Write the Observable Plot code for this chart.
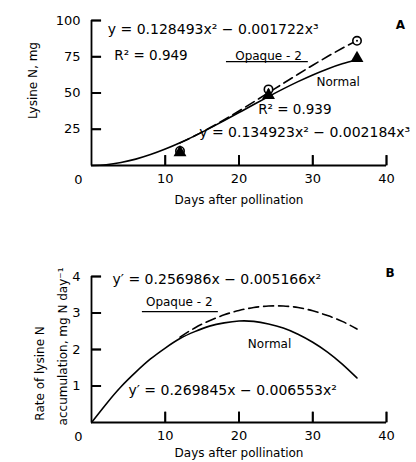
<!DOCTYPE html>
<html><head><meta charset="utf-8">
<script src="https://cdn.jsdelivr.net/npm/d3@7"></script>
<script src="https://cdn.jsdelivr.net/npm/@observablehq/plot@0.6"></script>
<style>body{margin:0;background:#fff}#c svg{display:block}</style>
</head><body><div id="c"></div>
<script>
// Panel A: lysine N (mg) vs days after pollination
const days = [0,2,4,6,8,10,12,14,16,18,20,22,24,26,28,30,32,34,36];
const lysineNormal = [0,0.52,2.02,4.39,7.52,11.31,15.66,20.45,25.6,30.98,36.5,42.05,47.52,52.82,57.84,62.46,66.6,70.13,72.96];
const daysOpaque = [12,14,16,18,20,22,24,26,28,30,32,34,36];
const lysineOpaque = [15.53,20.46,25.84,31.59,37.62,43.86,50.21,56.6,62.94,69.15,75.15,80.86,86.19];
const obsDays = [12,24,36];
const obsOpaque = [10,52.5,86];
const obsNormal = [9,48.5,74];
// Panel B: rate of lysine N accumulation
const rateNormal = [0,0.51,0.98,1.38,1.74,2.04,2.3,2.49,2.64,2.73,2.78,2.77,2.7,2.59,2.42,2.2,1.93,1.6,1.22];
const rateOpaque = [2.34,2.59,2.79,2.95,3.07,3.15,3.19,3.19,3.15,3.06,2.93,2.77,2.56];
// ticks
const xTicks = [10,20,30,40];
const yTicksA = [25,50,75,100];
const yTicksB = [1,2,3,4];

const F = "DejaVu Sans";
const rows = (xs, ys) => xs.map((x, i) => ({x, y: ys[i]}));
const txt = (s, o) => Plot.text([s], {text: d => d, fontSize: 12, fill: "black", ...o});
const tickXs = (ticks, len) => Plot.link(ticks.map(v => ({v})), {x1: "v", x2: "v", y1: 0, y2: len, stroke: "black", strokeWidth: 1.8});
const tickYs = (ticks, len) => Plot.link(ticks.map(v => ({v})), {y1: "v", y2: "v", x1: 0, x2: len, stroke: "black", strokeWidth: 1.8});
const noText = () => "";

const panelA = Plot.plot({
  width: 416, height: 212,
  marginLeft: 91, marginRight: 30, marginTop: 20, marginBottom: 47,
  style: {fontFamily: F, fontSize: "12.5px", background: "white", color: "black", overflow: "visible"},
  x: {domain: [0, 40]},
  y: {domain: [0, 100]},
  marks: [
    Plot.axisX([...xTicks], {tickSize: 0, tickPadding: 8, fontSize: 13, label: null}),
    Plot.axisY([...yTicksA], {tickSize: 0, tickPadding: 11, fontSize: 13, label: null}),
    Plot.axisX([...xTicks], {tickSize: -10, strokeWidth: 1.8, tickFormat: noText, label: null}),
    Plot.axisY([...yTicksA], {tickSize: -10, strokeWidth: 1.8, tickFormat: noText, label: null}),
    Plot.ruleY([0], {x1: 0, x2: 40, strokeWidth: 1.8}),
    Plot.ruleX([0], {y1: 0, y2: 100, strokeWidth: 1.8}),
    tickXs(xTicks, 7),
    tickYs(yTicksA, 1.3),
    Plot.line(rows(days, lysineNormal), {x: "x", y: "y", curve: "natural", strokeWidth: 1.6}),
    Plot.line(rows(daysOpaque, lysineOpaque), {x: "x", y: "y", curve: "natural", strokeWidth: 1.6, strokeDasharray: "10,5"}),
    Plot.dot(rows(obsDays, obsOpaque), {x: "x", y: "y", r: 4.2, stroke: "black", strokeWidth: 1.6, fill: "white"}),
    Plot.dot(rows(obsDays, obsOpaque), {x: "x", y: "y", r: 1, fill: "black"}),
    Plot.dot(rows(obsDays, obsNormal), {x: "x", y: "y", symbol: "triangle", r: 4.8, fill: "black"}),
    txt("0", {x: 0, y: 0, dx: -13, dy: 14, fontSize: 13}),
    txt("y = 0.128493x² − 0.001722x³", {x: 2.2, y: 93.8, textAnchor: "start", fontSize: 14}),
    txt("R² = 0.949", {x: 3.1, y: 75.9, textAnchor: "start", fontSize: 13.5}),
    txt("A", {x: 41.9, y: 96.6, fontWeight: "bold"}),
    txt("Opaque - 2", {x: 24.0, y: 75.2}),
    Plot.ruleY([71.7], {x1: 18.3, x2: 29.4, strokeWidth: 1.3}),
    txt("Normal", {x: 30.5, y: 57.2, textAnchor: "start"}),
    txt("R² = 0.939", {x: 22.6, y: 38.6, textAnchor: "start", fontSize: 13.5}),
    txt("y = 0.134923x² − 0.002184x³", {x: 14.6, y: 22.8, textAnchor: "start", fontSize: 14}),
    txt("Lysine N, mg", {x: -7.86, y: 58.6, rotate: -90}),
    txt("Days after pollination", {x: 20, y: -24.1})
  ]
});

const panelB = Plot.plot({
  width: 416, height: 250,
  marginLeft: 91, marginRight: 30, marginTop: 64, marginBottom: 40,
  style: {fontFamily: F, fontSize: "12.5px", background: "white", color: "black", overflow: "visible"},
  x: {domain: [0, 40]},
  y: {domain: [0, 4]},
  marks: [
    Plot.axisX([...xTicks], {tickSize: 0, tickPadding: 8, fontSize: 13, label: null}),
    Plot.axisY([...yTicksB], {tickSize: 0, tickPadding: 11, fontSize: 13, label: null}),
    Plot.axisX([...xTicks], {tickSize: -10, strokeWidth: 1.8, tickFormat: noText, label: null}),
    Plot.axisY([...yTicksB], {tickSize: -10, strokeWidth: 1.8, tickFormat: noText, label: null}),
    Plot.ruleY([0], {x1: 0, x2: 40, strokeWidth: 1.8}),
    Plot.ruleX([0], {y1: 0, y2: 4, strokeWidth: 1.8}),
    tickXs(xTicks, 0.3),
    tickYs(yTicksB, 1.3),
    Plot.line(rows(days, rateNormal), {x: "x", y: "y", curve: "natural", strokeWidth: 1.6}),
    Plot.line(rows(daysOpaque, rateOpaque), {x: "x", y: "y", curve: "natural", strokeWidth: 1.6, strokeDasharray: "10,5"}),
    txt("0", {x: 0, y: 0, dx: -13, dy: 14, fontSize: 13}),
    txt("y′ = 0.256986x − 0.005166x²", {x: 2.85, y: 3.92, textAnchor: "start", fontSize: 14}),
    txt("B", {x: 40.5, y: 4.08, fontWeight: "bold"}),
    txt("Opaque - 2", {x: 11.9, y: 3.29}),
    Plot.ruleY([3.04], {x1: 6.9, x2: 17.2, strokeWidth: 1.3}),
    txt("Normal", {x: 21.2, y: 2.14, textAnchor: "start"}),
    txt("y′ = 0.269845x − 0.006553x²", {x: 5.0, y: 0.88, textAnchor: "start", fontSize: 14}),
    txt("Rate of lysine N", {x: -6.9, y: 0.05, rotate: -90, textAnchor: "start"}),
    txt("accumulation, mg N day⁻¹", {x: -3.8, y: -0.08, rotate: -90, textAnchor: "start"}),
    txt("Days after pollination", {x: 20, y: -0.84})
  ]
});

document.getElementById("c").append(panelA, panelB);
</script>
</body></html>
